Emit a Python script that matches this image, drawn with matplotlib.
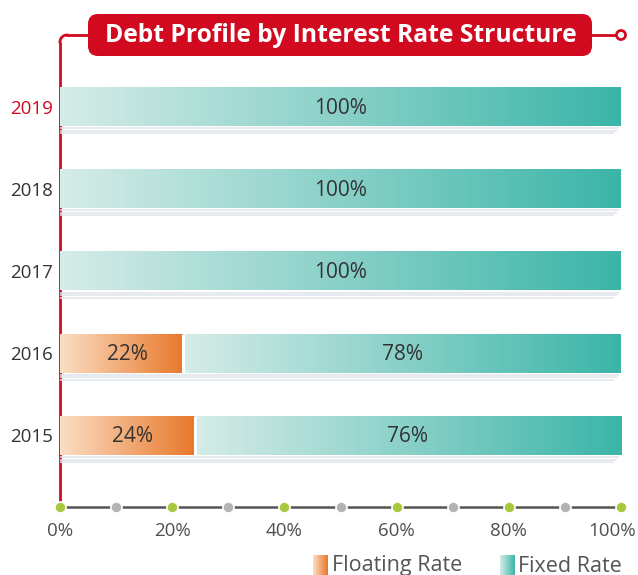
import matplotlib
matplotlib.use("Agg")
import matplotlib.pyplot as plt
import numpy as np
from matplotlib.patches import FancyBboxPatch, Circle
from matplotlib.transforms import ScaledTranslation

years = ["2015", "2016", "2017", "2018", "2019"]
floating = [24, 22, 0, 0, 0]
fixed = [76, 78, 100, 100, 100]
xticks = [0, 20, 40, 60, 80, 100]
xtick_labels = ["0%", "20%", "40%", "60%", "80%", "100%"]
title = "Debt Profile by Interest Rate Structure"
legend_labels = ["Floating Rate", "Fixed Rate"]

FONT = "Open Sans"
RED = "#d20a1f"
TXT = "#333333"
fl_c0, fl_c1 = np.array([251, 222, 196]) / 255, np.array([232, 120, 42]) / 255
fx_c0, fx_c1 = np.array([214, 236, 232]) / 255, np.array([59, 181, 168]) / 255

W, H = 638, 575
fig = plt.figure(figsize=(W / 100, H / 100), dpi=100)

# decorations layer in pixel coordinates
deco = fig.add_axes([0, 0, 1, 1])
deco.set_xlim(0, W)
deco.set_ylim(H, 0)
deco.axis("off")

# main axes: x 0..100 -> px 60..621, y from px 60 to 507
x0, x1 = 60, 621
ytop, ybot = 60, 507
ax = fig.add_axes([x0 / W, 1 - ybot / H, (x1 - x0) / W, (ybot - ytop) / H])
ax.patch.set_alpha(0)
for s in ax.spines.values():
    s.set_visible(False)

spacing = 82.25
ymin = -(ybot - 435.5) / spacing
ymax = (435.5 - ytop) / spacing
bh = 39 / spacing
tdy = -1.5 / spacing


def grad(c0, c1, n=256):
    t = np.linspace(0, 1, n)[None, :, None]
    return c0[None, None, :] * (1 - t) + c1[None, None, :] * t


for i, y in enumerate(years):
    f = floating[i]
    x = fixed[i]
    if f > 0:
        ax.imshow(grad(fl_c0, fl_c1), extent=[0, f, i - bh / 2, i + bh / 2],
                  aspect="auto", interpolation="bilinear", zorder=2)
        ax.text(f / 2 + 1, i + tdy, f"{f}%", ha="center", va="center", fontsize=15,
                color=TXT, family=FONT, zorder=4)
    ax.imshow(grad(fx_c0, fx_c1), extent=[f, f + x, i - bh / 2, i + bh / 2],
              aspect="auto", interpolation="bilinear", zorder=2)
    if f > 0:
        ax.plot([f, f], [i - bh / 2, i + bh / 2], color="white", lw=2.2, zorder=3,
                solid_capstyle="butt")
    ax.text(f + x / 2, i + tdy, f"{x}%", ha="center", va="center", fontsize=15,
            color=TXT, family=FONT, zorder=4)
    # shadow stripes below the bar
    for k, (dy, xe) in enumerate([(2.0, 99.7), (4.6, 99.2), (7.1, 98.7)]):
        yy = i - bh / 2 - dy / spacing
        ax.plot([0, xe], [yy, yy], color="#e0e4e9", lw=1.1, zorder=1,
                solid_capstyle="butt")

ax.set_xlim(0, 100)
ax.set_ylim(ymin, ymax)
ax.set_yticks(range(len(years)))
ax.set_yticklabels(years, family=FONT, fontsize=13.5)
for lbl in ax.get_yticklabels():
    lbl.set_color(RED if lbl.get_text() == "2019" else TXT)
ax.tick_params(axis="y", length=0, pad=5)
ax.set_xticks(xticks)
ax.set_xticklabels(xtick_labels, family=FONT, fontsize=13.5, color="#505050")
ax.tick_params(axis="x", length=0, pad=11)
last = ax.get_xticklabels()[-1]
last.set_transform(last.get_transform() + ScaledTranslation(-9 / 100, 0, fig.dpi_scale_trans))

# axis line with dots
ax.plot([0, 100], [ymin, ymin], color="#555555", lw=1.8, zorder=5, clip_on=False)
for v in range(0, 101, 10):
    col = "#a9c93c" if v % 20 == 0 else "#b4b4b4"
    ax.plot([v], [ymin], "o", ms=8, color=col, mec="white", mew=1.2, zorder=6,
            clip_on=False)

# red frame line
deco.plot([60, 60], [505, 42], color=RED, lw=2, solid_capstyle="butt", zorder=10)
theta = np.linspace(np.pi, 1.5 * np.pi, 20)
r = 7
deco.plot(60 + r + r * np.cos(theta), 42 + r * np.sin(theta), color=RED, lw=2, zorder=10)
deco.plot([67, 88], [35, 35], color=RED, lw=2, zorder=10)
deco.plot([592, 616], [35, 35], color=RED, lw=2, zorder=10)
deco.add_patch(Circle((621, 35), 4.5, facecolor="white", edgecolor=RED, lw=2, zorder=11))

# title box
deco.add_patch(FancyBboxPatch((96, 22), 488, 26,
                              boxstyle="round,pad=8,rounding_size=10",
                              facecolor=RED, edgecolor="none", zorder=12))
deco.text(341, 35.5, title, ha="center", va="center", color="white",
          fontsize=17.7, fontweight="bold", family=FONT, zorder=13)

# legend
deco.imshow(grad(fl_c0, fl_c1, 64), extent=[313, 328, 575, 555], aspect="auto", zorder=5)
deco.text(332, 566, legend_labels[0], ha="left", va="center", fontsize=15.5,
          color="#555555", family=FONT)
deco.imshow(grad(fx_c0, fx_c1, 64), extent=[500, 515, 575, 555], aspect="auto", zorder=5)
deco.text(518, 566, legend_labels[1], ha="left", va="center", fontsize=15.5,
          color="#555555", family=FONT)
deco.set_xlim(0, W)
deco.set_ylim(H, 0)

fig.savefig("out.png", dpi=100)
